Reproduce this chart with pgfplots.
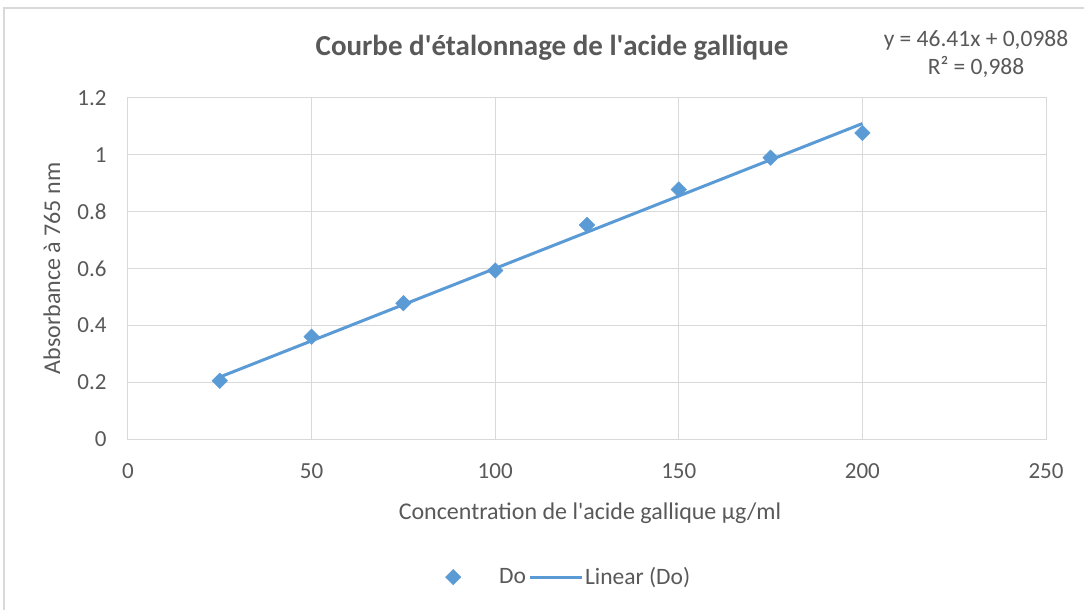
\documentclass[border=0pt]{standalone}
\usepackage{pgfplots}
\pgfplotsset{compat=1.18}
\usepackage{fontspec}
\setmainfont{Carlito}
\definecolor{mblue}{HTML}{5B9BD5}
\definecolor{tgray}{HTML}{595959}
\definecolor{ggray}{HTML}{D9D9D9}
\begin{document}
\begin{tikzpicture}[x=1pt,y=1pt]
\path[use as bounding box, fill=white] (-128,-171) rectangle (956,439);
\draw[ggray, line width=1.2pt] (-124,-175) rectangle (960,431);
\begin{axis}[
  at={(0,0)}, anchor=south west,
  scale only axis, width=918pt, height=341pt,
  xmin=0, xmax=250, ymin=0, ymax=1.2,
  xtick={0,50,...,250}, ytick={0,0.2,...,1.2},
  yticklabels={0,0.2,0.4,0.6,0.8,1,1.2},
  grid=major, major grid style={ggray, line width=1pt},
  axis line style={ggray, line width=1pt},
  tick style={draw=none},
  ticklabel style={font=\fontsize{23}{26}\selectfont, text=tgray},
  /pgf/number format/assume math mode=true,
  xticklabel style={yshift=-21pt},
  yticklabel style={xshift=-18pt},
  xlabel={Concentration de l\textquotesingle acide gallique µg/ml},
  ylabel={Absorbance à 765 nm},
  label style={font=\fontsize{24}{27}\selectfont, text=tgray},
  xlabel style={at={(axis description cs:0.5,0)}, anchor=center, yshift=-74pt, xshift=3pt},
  ylabel style={at={(axis description cs:0,0.5)}, anchor=center, xshift=0pt, yshift=76pt},
  legend columns=2,
  legend style={at={(0.479,-0.405)}, anchor=center, draw=none, fill=none,
    font=\fontsize{23.5}{26}\selectfont, text=tgray,
    /tikz/every odd column/.append style={column sep=0pt},
    /tikz/every even column/.append style={column sep=0pt}},
  legend cell align=left,
]
\addplot[only marks, mark=square*, mark size=5.5pt, mark options={rotate=45, fill=mblue, draw=mblue}, color=mblue,
  legend image code/.code={\path[draw=none, fill=none] (-10pt,0pt) rectangle (44pt,0.1pt); \fill[mblue, rotate=45] (-5.5pt,-5.5pt) rectangle (5.5pt,5.5pt);}]
coordinates {(25,0.205) (50,0.36) (75,0.478) (100,0.593) (125,0.753) (150,0.878) (175,0.99) (200,1.077)};
\addlegendentry{Do}
\addplot[mblue, line width=3pt, no marks, legend image code/.code={\draw[mblue, line width=3pt] (0pt,0pt) -- (52pt,0pt);}]
coordinates {(25,0.218) (200,1.11)};
\addlegendentry{Linear (Do)}
\end{axis}
\node[font=\bfseries\fontsize{29}{34}\selectfont, text=tgray] at (424,391) {Courbe d\textquotesingle étalonnage de l\textquotesingle acide gallique};
\node[font=\fontsize{23.5}{28}\selectfont, text=tgray, align=center] at (848,385) {y = 46.41x + 0,0988\\R² = 0,988};
\end{tikzpicture}
\end{document}
